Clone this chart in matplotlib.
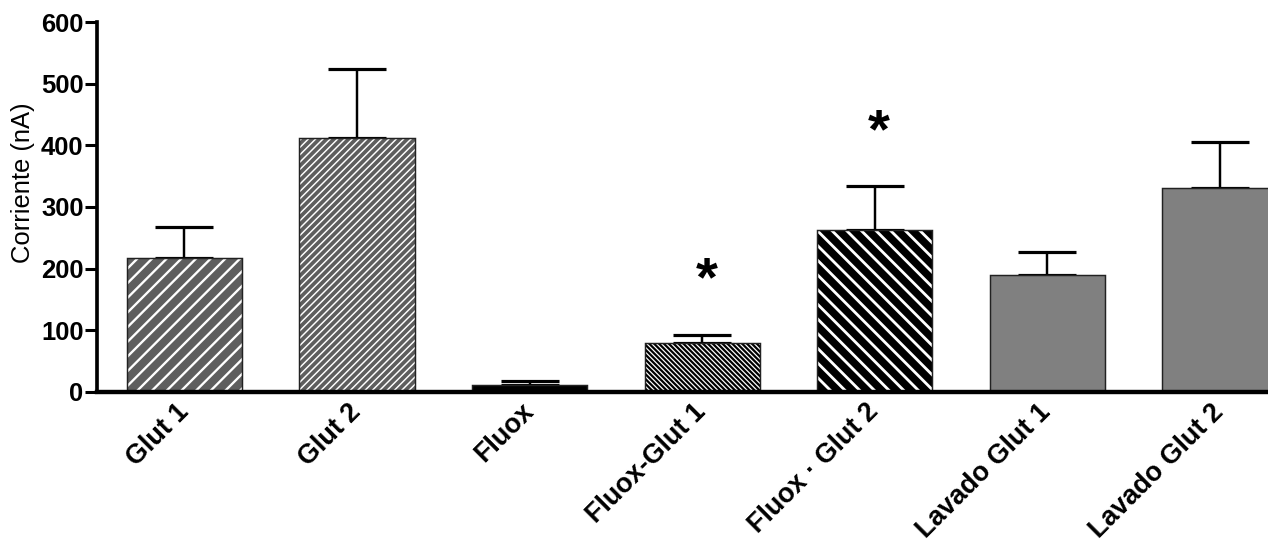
import numpy as np
import matplotlib
matplotlib.use("Agg")
import matplotlib.pyplot as plt

# Datos: corriente media y error (nA) por condición
labels = ["Glut 1", "Glut 2", "Fluox", "Fluox-Glut 1", "Fluox · Glut 2",
          "Lavado Glut 1", "Lavado Glut 2"]
means = [217, 412, 12, 79, 263, 190, 330]
errors = [50, 112, 6, 14, 71, 37, 76]
signif = [False, False, False, True, True, False, False]

# Estilo de cada barra: (relleno, trama, grosor de trama)
estilos = [
    ("#5e5e5e", "//", 1.9),
    ("#5e5e5e", "////", 1.2),
    ("black", "", 1.0),
    ("black", "\\\\\\\\\\\\", 1.0),
    ("black", "\\\\", 2.3),
    ("#808080", "", 1.0),
    ("#808080", "", 1.0),
]

plt.rcParams["font.family"] = ["Liberation Sans", "DejaVu Sans"]

DPI = 88
fig = plt.figure(figsize=(1268 / DPI, 550 / DPI), dpi=DPI)
ax = fig.add_axes([0.0765, 0.2873, 0.9235, 0.6727])

x = np.arange(len(labels))
ancho = 0.667

for xi, m, (color, trama, lw_trama) in zip(x, means, estilos):
    with plt.rc_context({"hatch.linewidth": lw_trama}):
        ax.bar(xi, m, width=ancho, color=color, edgecolor="white" if trama else color,
               hatch=trama, linewidth=0, zorder=2)
    ax.bar(xi, m, width=ancho, fill=False, edgecolor="#222222", linewidth=1.2, zorder=3)

ax.errorbar(x, means, yerr=[np.zeros(len(errors)), errors], fmt="none",
            ecolor="black", elinewidth=2.0, capsize=24, capthick=2.6, zorder=1)

for xi, m, e, s in zip(x, means, errors, signif):
    if s:
        ax.text(xi + 0.025, m + e + 86, "*", ha="center", va="center",
                fontsize=46, fontweight="bold", color="black")

ax.set_xlim(-0.507, 6.28)
ax.set_ylim(0, 600)
ax.set_yticks([0, 100, 200, 300, 400, 500, 600])

ax.spines["top"].set_visible(False)
ax.spines["right"].set_visible(False)
ax.spines["left"].set_linewidth(3.0)
ax.spines["bottom"].set_linewidth(3.6)
ax.spines["left"].set_zorder(4)
ax.spines["bottom"].set_zorder(4)

ax.tick_params(axis="y", width=2.5, length=10, pad=1, labelsize=21)
ax.tick_params(axis="x", length=0, pad=13, labelsize=22)
for t in ax.get_yticklabels():
    t.set_fontweight("bold")

ax.set_xticks(x)
ax.set_xticklabels(labels, rotation=45, ha="right", va="center",
                   rotation_mode="anchor", fontweight="bold")

ax.set_ylabel("Corriente (nA)", fontsize=21)
ax.yaxis.set_label_coords(-0.053, 0.565)

fig.savefig("out.png", dpi=DPI)
